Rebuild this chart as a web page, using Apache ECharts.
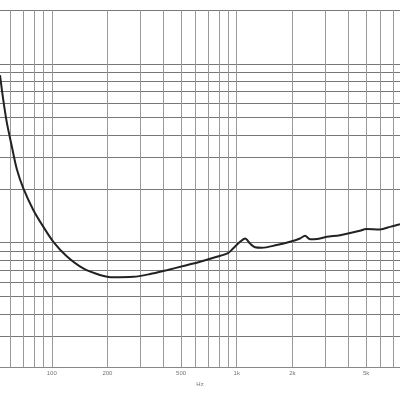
<!DOCTYPE html>
<html><head><meta charset="utf-8">
<script src="https://cdn.jsdelivr.net/npm/echarts@6/dist/echarts.min.js"></script>
<style>html,body{margin:0;padding:0;background:#fff}#c{width:400px;height:400px}</style>
</head><body><div id="c"></div>
<script>
const freqHz = [52.5, 54.7, 57.1, 60.8, 64.7, 70.2, 79.6, 90.1, 102, 120.5, 148, 182, 215, 276, 340, 418, 514, 633, 780, 901, 958, 1042, 1109, 1180, 1256, 1365, 1645, 1942, 2198, 2340, 2490, 2705, 3065, 3616, 4640, 5000, 5950, 6740, 7630];
const impedance = [43.2, 31.3, 23.6, 17.3, 12.9, 10.05, 7.6, 6.13, 5.06, 4.2, 3.59, 3.30, 3.20, 3.22, 3.34, 3.51, 3.70, 3.91, 4.17, 4.39, 4.65, 5.06, 5.28, 4.95, 4.71, 4.68, 4.85, 5.06, 5.28, 5.46, 5.22, 5.24, 5.39, 5.51, 5.83, 5.96, 5.93, 6.13, 6.35];
const xGridTicks = [60, 70, 80, 90, 100, 200, 300, 400, 500, 600, 700, 800, 900, 1000, 2000, 3000, 4000, 5000, 6000, 7000];
const xLabelTicks = [100, 200, 500, 1000, 2000, 5000];
const yGridTicks = [1, 1.5, 2, 2.5, 3, 3.5, 4, 4.5, 5, 10, 15, 20, 25, 30, 35, 40, 45, 50, 100];
const xName = 'Hz';

const chart = echarts.init(document.getElementById('c'), null, {renderer: 'canvas'});
chart.setOption({
  animation: false,
  backgroundColor: '#fff',
  grid: {left: 0, right: 0, top: 10, bottom: 32.3, containLabel: false},
  xAxis: {
    type: 'log', logBase: 10, min: 52.5, max: 7630,
    name: xName, nameLocation: 'middle', nameGap: 13,
    nameTextStyle: {fontSize: 6, color: '#777', fontFamily: 'Liberation Sans'},
    axisLine: {show: true, lineStyle: {color: '#888', width: 1}},
    axisTick: {show: false, customValues: xGridTicks},
    axisLabel: {show: true, customValues: xLabelTicks, fontSize: 6, color: '#777', margin: 3,
      fontFamily: 'Liberation Sans',
      formatter: v => v >= 1000 ? (v / 1000) + 'k' : String(v)},
    splitLine: {show: true, lineStyle: {color: '#999', width: 1}},
    minorTick: {show: false}, minorSplitLine: {show: false}
  },
  yAxis: {
    type: 'log', logBase: 10, min: 1, max: 100,
    axisLine: {show: false}, axisTick: {show: false, customValues: yGridTicks},
    axisLabel: {show: false},
    splitLine: {show: true, lineStyle: {color: '#777', width: 1}}
  },
  series: [{
    type: 'line', showSymbol: false, smooth: 0.3,
    data: freqHz.map((f, i) => [f, impedance[i]]),
    lineStyle: {color: '#222', width: 2}, clip: true
  }]
});
</script></body></html>
